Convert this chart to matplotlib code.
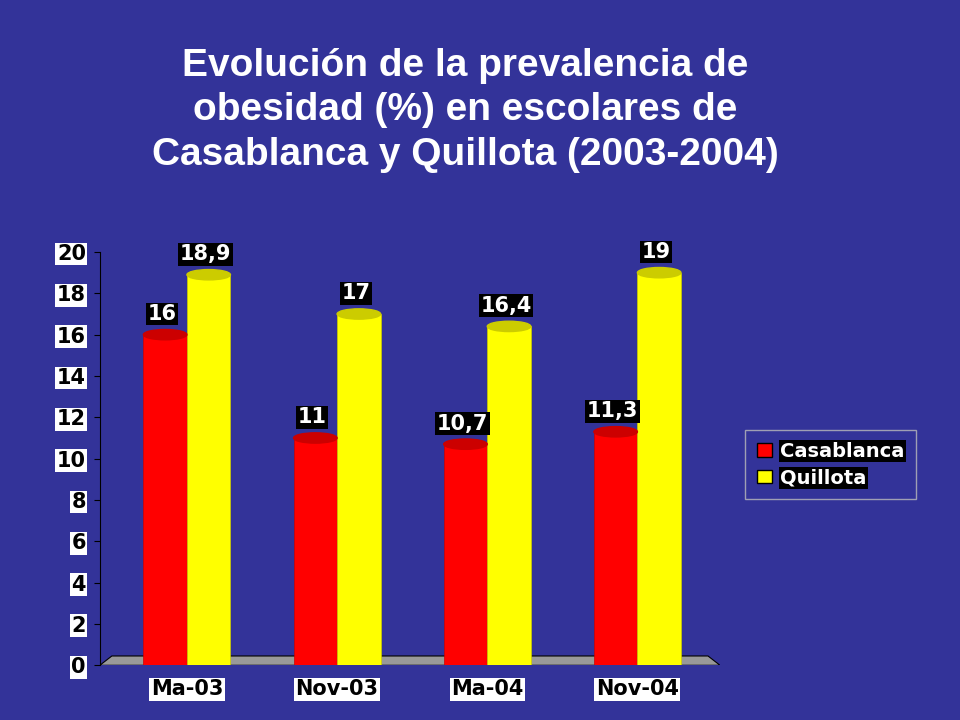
import matplotlib
matplotlib.use("Agg")
import matplotlib.pyplot as plt
from matplotlib.patches import Ellipse, Polygon, Patch
import numpy as np

categories = ["Ma-03", "Nov-03", "Ma-04", "Nov-04"]
casablanca = [16, 11, 10.7, 11.3]
quillota = [18.9, 17, 16.4, 19]
lab_c = ["16", "11", "10,7", "11,3"]
lab_q = ["18,9", "17", "16,4", "19"]

bg = "#333399"
fig = plt.figure(figsize=(9.6, 7.2), dpi=100, facecolor=bg)
fig.text(0.485, 0.847, "Evolución de la prevalencia de\nobesidad (%) en escolares de\nCasablanca y Quillota (2003-2004)",
         ha="center", va="center", color="white", fontsize=28, fontweight="bold",
         family="Liberation Sans", linespacing=1.3)

ax = fig.add_axes([0.104, 0.076, 0.646, 0.574])
ax.set_facecolor(bg)
x = np.arange(len(categories))
w = 0.29
ax.set_xlim(-0.58, 3.55)
ax.set_ylim(0, 20)

ax.add_patch(Polygon([[-0.58, 0], [3.55, 0], [3.47, 0.45], [-0.5, 0.45]], closed=True,
                     facecolor="#999999", edgecolor="black", lw=0.8, zorder=1))

for xs, vals, col, dark, labs in [(x - w/2, casablanca, "#ff0000", "#cc0000", lab_c),
                                   (x + w/2, quillota, "#ffff00", "#cccc00", lab_q)]:
    ax.bar(xs, vals, width=w, color=col, edgecolor=dark, lw=0.5, zorder=2)
    for xi, v, l in zip(xs, vals, labs):
        ax.add_patch(Ellipse((xi, v), w, 0.5, facecolor=dark, edgecolor=dark, zorder=3))
        ax.text(xi - 0.02, v + 1.0, l, ha="center", va="center", color="white", fontsize=15,
                fontweight="bold", zorder=4,
                bbox=dict(facecolor="black", edgecolor="none", pad=1))

ax.set_yticks(range(0, 21, 2))
ax.set_xticks(x)
ax.set_xticklabels(categories)
for spine in ax.spines.values():
    spine.set_visible(False)
ax.spines["left"].set_visible(True)
ax.spines["left"].set_color("black")
ax.tick_params(axis="y", length=4, color="black", pad=6)
ax.tick_params(axis="x", length=0, pad=10)
for t in ax.get_yticklabels() + ax.get_xticklabels():
    t.set_fontweight("bold")
    t.set_fontsize(15)
    t.set_color("black")
    t.set_bbox(dict(facecolor="white", edgecolor="none", pad=1))

handles = [Patch(facecolor="#ff0000", edgecolor="black"), Patch(facecolor="#ffff00", edgecolor="black")]
leg = fig.legend(handles, ["Casablanca", "Quillota"], loc="center left", bbox_to_anchor=(0.772, 0.355),
                 frameon=True, fontsize=14, handlelength=0.8, handletextpad=0.4, borderpad=0.3,
                 labelspacing=0.4)
leg.get_frame().set_facecolor(bg)
leg.get_frame().set_edgecolor("#bbbbbb")
leg.get_frame().set_boxstyle("square")
for t in leg.get_texts():
    t.set_color("white")
    t.set_fontweight("bold")
    t.set_bbox(dict(facecolor="black", edgecolor="none", pad=1))

fig.savefig("out.png", dpi=100, facecolor=bg)
